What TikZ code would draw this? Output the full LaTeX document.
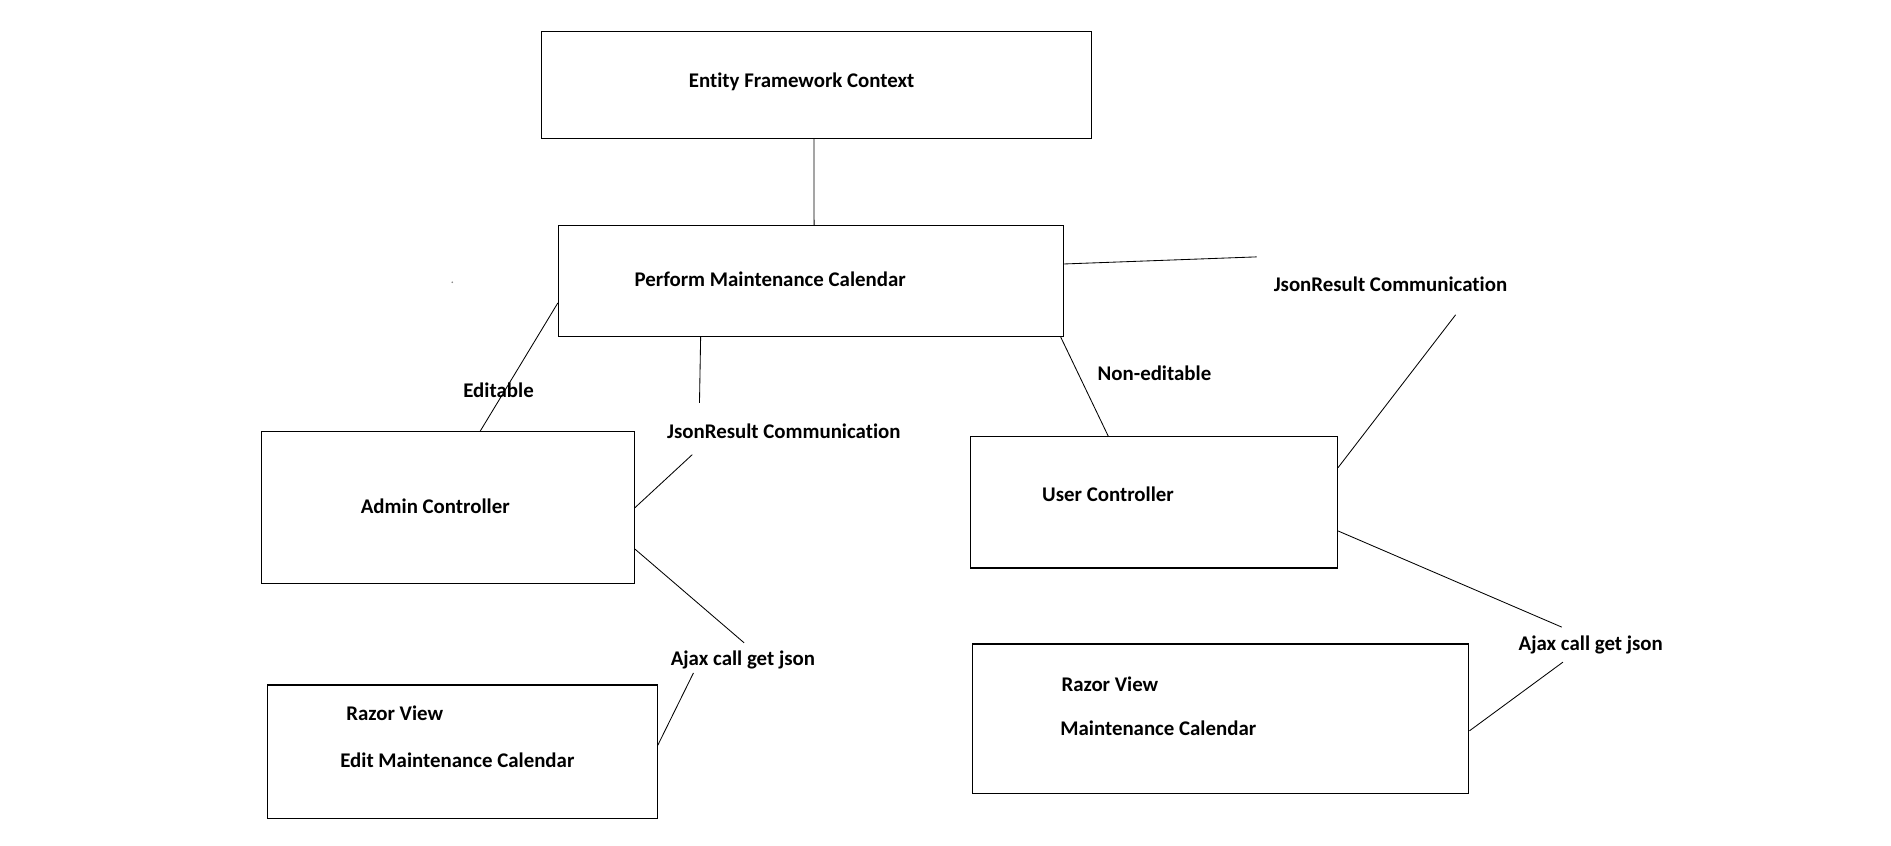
\documentclass[tikz,border=0pt]{standalone}
\usepackage{fontspec}
\setmainfont{Carlito}[Ligatures=NoCommon]
\usetikzlibrary{calc}
\begin{document}
\begin{tikzpicture}[x=1pt,y=-1pt,
  box/.style={draw,line width=0.9pt,rectangle,inner sep=0pt},
  lbl/.style={anchor=west,inner sep=0pt,font=\fontsize{17.3}{20}\selectfont\bfseries,text height=0.75em,text depth=0.25em},
  conn/.style={line width=0.7pt}]
\useasboundingbox[fill=white] (0,0) rectangle (1568,701);
% boxes
\node[box,minimum width=456pt,minimum height=89pt] (ef) at (677,70.5) {};
\node[box,minimum width=419pt,minimum height=92pt] (pmc) at (672.5,233) {};
\node[box,minimum width=309pt,minimum height=126pt] (admin) at (371.5,421) {};
\node[box,minimum width=304pt,minimum height=109pt] (user) at (957,416.5) {};
\node[box,minimum width=323pt,minimum height=111pt] (edit) at (383.5,623.5) {};
\node[box,minimum width=412pt,minimum height=124pt] (rv) at (1012,596) {};
% texts
\node[lbl] (tef) at (571,70) {Entity Framework Context};
\node[lbl] (tpmc) at (526,235) {Perform Maintenance Calendar};
\node[lbl] (tadmin) at (299,423) {Admin Controller};
\node[lbl] (tuser) at (864,413) {User Controller};
\node[lbl] (trv1) at (287,595) {Razor View};
\node[lbl] (tedit) at (282,634) {Edit Maintenance Calendar};
\node[lbl] (trv2) at (880,571) {Razor View};
\node[lbl] (tmc) at (879,607) {Maintenance Calendar};
\node[lbl] (leditable) at (384,327) {Editable};
\node[lbl] (ljson1) at (553,361) {JsonResult Communication};
\node[lbl] (lnonedit) at (910,313) {Non-editable};
\node[lbl] (ljson2) at (1056,239) {JsonResult Communication};
\node[lbl] (lajax1) at (556,549) {Ajax call get json};
\node[lbl] (lajax2) at (1259,537) {Ajax call get json};
% free ends
\coordinate (j2a) at (1042,213);
\coordinate (j2b) at (1207,261);
\coordinate (j1a) at (580,334);
\coordinate (j1b) at (574,377);
\coordinate (a1a) at (617,533);
\coordinate (a1b) at (575,558);
\coordinate (a2a) at (1295,520);
\coordinate (a2b) at (1296,549);
% connectors
\draw[conn] ($(ef.south west)!0.4956!(ef.south east)$) -- ($(pmc.north west)!0.506!(pmc.north east)$);
\draw[conn] ($(pmc.north east)!0.348!(pmc.south east)$) -- (j2a);
\draw[conn] (j2b) -- ($(user.north east)!0.239!(user.south east)$);
\draw[conn] ($(pmc.north west)!0.696!(pmc.south west)$) -- ($(admin.north west)!0.586!(admin.north east)$);
\draw[conn] ($(pmc.south west)!0.282!(pmc.south east)$) -- (j1a);
\draw[conn] (j1b) -- (admin.east);
\draw[conn] ($(pmc.south west)!0.993!(pmc.south east)$) -- ($(user.north west)!0.375!(user.north east)$);
\draw[conn] ($(admin.north east)!0.77!(admin.south east)$) -- (a1a);
\draw[conn] (a1b) -- ($(edit.north east)!0.45!(edit.south east)$);
\draw[conn] ($(user.north east)!0.716!(user.south east)$) -- (a2a);
\draw[conn] (a2b) -- ($(rv.north east)!0.58!(rv.south east)$);
% stray dot
\fill[gray] (375,234) circle (0.7);
\end{tikzpicture}
\end{document}
